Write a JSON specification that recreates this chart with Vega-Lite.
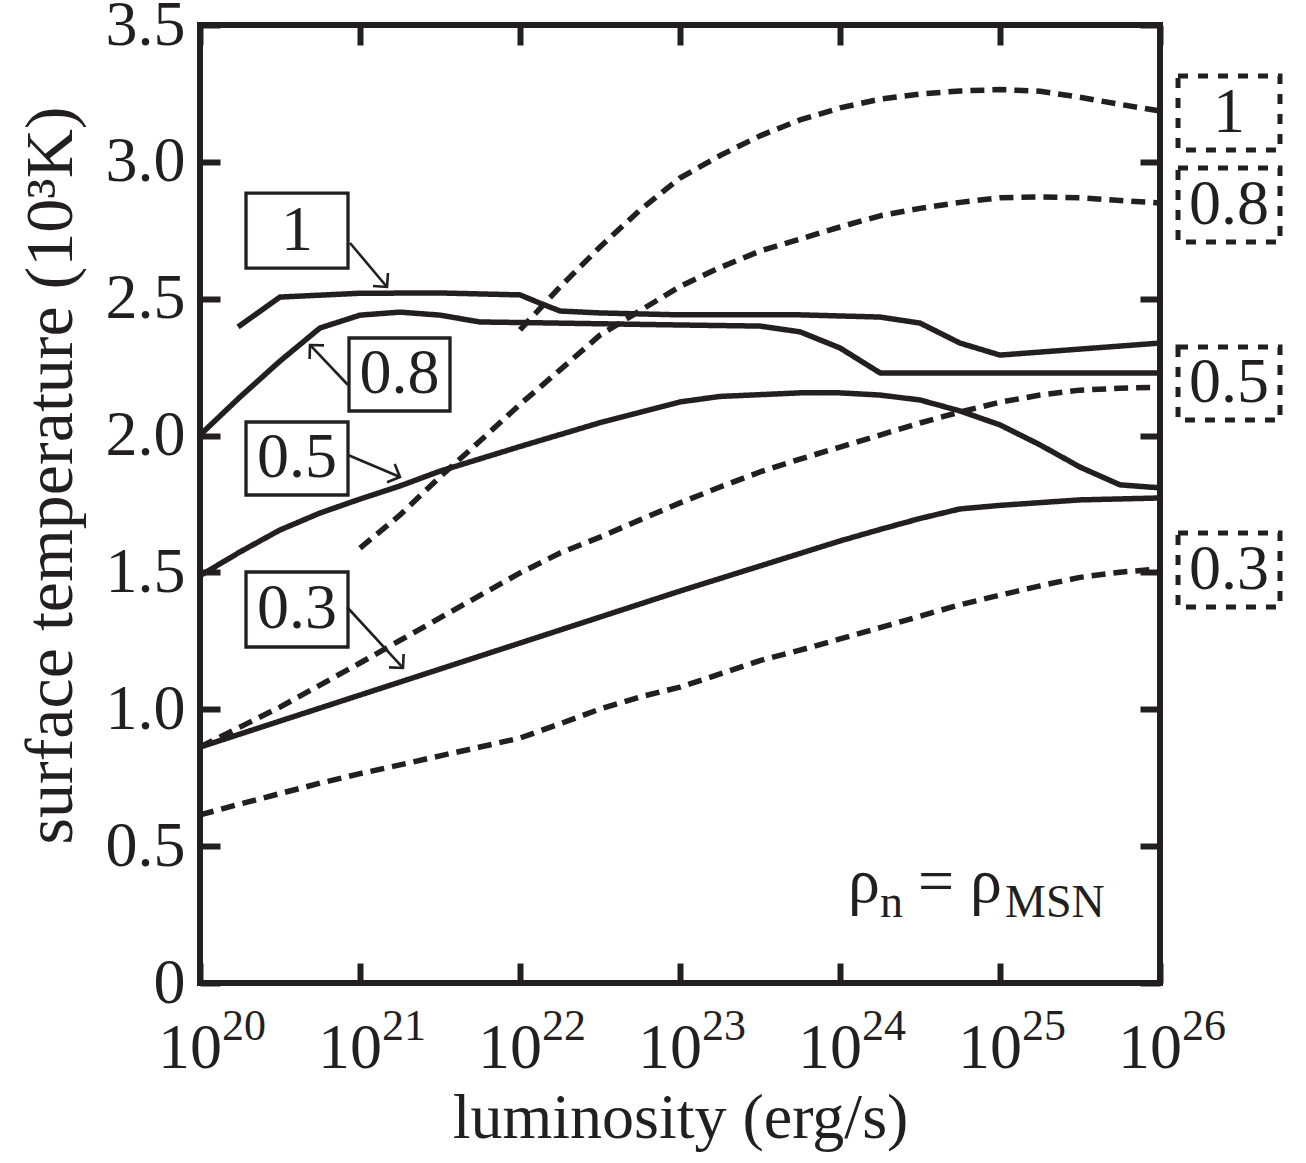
{
  "$schema": "https://vega.github.io/schema/vega-lite/v6.json",
  "width": 960,
  "height": 958,
  "autosize": {"type": "none"},
  "padding": {"left": 200, "top": 25, "right": 146, "bottom": 180},
  "background": "white",
  "config": {
    "view": {"stroke": "#231f20", "strokeWidth": 6},
    "font": "Liberation Serif",
    "axis": {
      "labelFont": "Liberation Serif",
      "titleFont": "Liberation Serif",
      "labelColor": "#231f20",
      "titleColor": "#231f20",
      "tickColor": "#231f20",
      "domain": false,
      "grid": false,
      "titleFontWeight": "normal",
      "tickWidth": 6,
      "tickSize": -20,
      "labelFlush": false,
      "labelOverlap": false,
      "labelBound": false
    }
  },
  "datasets": {
    "curves": [
      {"series": "s1", "style": "solid", "L": 1.73e20, "T": 2.397},
      {"series": "s1", "style": "solid", "L": 3.16e20, "T": 2.506},
      {"series": "s1", "style": "solid", "L": 1e21, "T": 2.52},
      {"series": "s1", "style": "solid", "L": 3.16e21, "T": 2.521},
      {"series": "s1", "style": "solid", "L": 1e22, "T": 2.514},
      {"series": "s1", "style": "solid", "L": 1.33e22, "T": 2.484},
      {"series": "s1", "style": "solid", "L": 1.78e22, "T": 2.455},
      {"series": "s1", "style": "solid", "L": 3.16e22, "T": 2.448},
      {"series": "s1", "style": "solid", "L": 1e23, "T": 2.441},
      {"series": "s1", "style": "solid", "L": 5.62e23, "T": 2.441},
      {"series": "s1", "style": "solid", "L": 1.78e24, "T": 2.433},
      {"series": "s1", "style": "solid", "L": 3.16e24, "T": 2.411},
      {"series": "s1", "style": "solid", "L": 5.62e24, "T": 2.338},
      {"series": "s1", "style": "solid", "L": 1e25, "T": 2.294},
      {"series": "s1", "style": "solid", "L": 1e26, "T": 2.338},

      {"series": "s08", "style": "solid", "L": 1e20, "T": 2.002},
      {"series": "s08", "style": "solid", "L": 1.78e20, "T": 2.141},
      {"series": "s08", "style": "solid", "L": 3.16e20, "T": 2.272},
      {"series": "s08", "style": "solid", "L": 5.62e20, "T": 2.393},
      {"series": "s08", "style": "solid", "L": 1e21, "T": 2.44},
      {"series": "s08", "style": "solid", "L": 1.78e21, "T": 2.451},
      {"series": "s08", "style": "solid", "L": 3.16e21, "T": 2.44},
      {"series": "s08", "style": "solid", "L": 5.62e21, "T": 2.415},
      {"series": "s08", "style": "solid", "L": 1e22, "T": 2.413},
      {"series": "s08", "style": "solid", "L": 1e23, "T": 2.404},
      {"series": "s08", "style": "solid", "L": 3.16e23, "T": 2.4},
      {"series": "s08", "style": "solid", "L": 5.62e23, "T": 2.379},
      {"series": "s08", "style": "solid", "L": 1e24, "T": 2.32},
      {"series": "s08", "style": "solid", "L": 1.78e24, "T": 2.229},
      {"series": "s08", "style": "solid", "L": 1e26, "T": 2.229},

      {"series": "s05", "style": "solid", "L": 1e20, "T": 1.488},
      {"series": "s05", "style": "solid", "L": 1.78e20, "T": 1.575},
      {"series": "s05", "style": "solid", "L": 3.16e20, "T": 1.655},
      {"series": "s05", "style": "solid", "L": 5.62e20, "T": 1.717},
      {"series": "s05", "style": "solid", "L": 1e21, "T": 1.768},
      {"series": "s05", "style": "solid", "L": 1.78e21, "T": 1.816},
      {"series": "s05", "style": "solid", "L": 3.16e21, "T": 1.87},
      {"series": "s05", "style": "solid", "L": 1e22, "T": 1.96},
      {"series": "s05", "style": "solid", "L": 3.16e22, "T": 2.047},
      {"series": "s05", "style": "solid", "L": 1e23, "T": 2.123},
      {"series": "s05", "style": "solid", "L": 1.78e23, "T": 2.143},
      {"series": "s05", "style": "solid", "L": 5.62e23, "T": 2.156},
      {"series": "s05", "style": "solid", "L": 1e24, "T": 2.156},
      {"series": "s05", "style": "solid", "L": 1.78e24, "T": 2.148},
      {"series": "s05", "style": "solid", "L": 3.16e24, "T": 2.13},
      {"series": "s05", "style": "solid", "L": 5.62e24, "T": 2.09},
      {"series": "s05", "style": "solid", "L": 1e25, "T": 2.039},
      {"series": "s05", "style": "solid", "L": 1.78e25, "T": 1.966},
      {"series": "s05", "style": "solid", "L": 3.16e25, "T": 1.885},
      {"series": "s05", "style": "solid", "L": 5.62e25, "T": 1.82},
      {"series": "s05", "style": "solid", "L": 1e26, "T": 1.809},

      {"series": "s03", "style": "solid", "L": 1e20, "T": 0.862},
      {"series": "s03", "style": "solid", "L": 1e21, "T": 1.052},
      {"series": "s03", "style": "solid", "L": 1e22, "T": 1.242},
      {"series": "s03", "style": "solid", "L": 1e23, "T": 1.432},
      {"series": "s03", "style": "solid", "L": 1e24, "T": 1.615},
      {"series": "s03", "style": "solid", "L": 1.78e24, "T": 1.657},
      {"series": "s03", "style": "solid", "L": 3.16e24, "T": 1.697},
      {"series": "s03", "style": "solid", "L": 5.62e24, "T": 1.732},
      {"series": "s03", "style": "solid", "L": 1e25, "T": 1.745},
      {"series": "s03", "style": "solid", "L": 3.16e25, "T": 1.765},
      {"series": "s03", "style": "solid", "L": 1e26, "T": 1.772},

      {"series": "d1", "style": "dashed", "L": 1e22, "T": 2.386},
      {"series": "d1", "style": "dashed", "L": 1.78e22, "T": 2.543},
      {"series": "d1", "style": "dashed", "L": 3.16e22, "T": 2.689},
      {"series": "d1", "style": "dashed", "L": 5.62e22, "T": 2.824},
      {"series": "d1", "style": "dashed", "L": 1e23, "T": 2.941},
      {"series": "d1", "style": "dashed", "L": 1.78e23, "T": 3.023},
      {"series": "d1", "style": "dashed", "L": 3.16e23, "T": 3.095},
      {"series": "d1", "style": "dashed", "L": 5.62e23, "T": 3.153},
      {"series": "d1", "style": "dashed", "L": 1e24, "T": 3.197},
      {"series": "d1", "style": "dashed", "L": 1.78e24, "T": 3.229},
      {"series": "d1", "style": "dashed", "L": 3.16e24, "T": 3.248},
      {"series": "d1", "style": "dashed", "L": 5.62e24, "T": 3.259},
      {"series": "d1", "style": "dashed", "L": 1e25, "T": 3.264},
      {"series": "d1", "style": "dashed", "L": 1.78e25, "T": 3.258},
      {"series": "d1", "style": "dashed", "L": 3.16e25, "T": 3.236},
      {"series": "d1", "style": "dashed", "L": 5.62e25, "T": 3.21},
      {"series": "d1", "style": "dashed", "L": 1e26, "T": 3.186},

      {"series": "d08", "style": "dashed", "L": 1e21, "T": 1.589},
      {"series": "d08", "style": "dashed", "L": 1.78e21, "T": 1.71},
      {"series": "d08", "style": "dashed", "L": 3.16e21, "T": 1.849},
      {"series": "d08", "style": "dashed", "L": 5.62e21, "T": 1.98},
      {"series": "d08", "style": "dashed", "L": 1e22, "T": 2.114},
      {"series": "d08", "style": "dashed", "L": 1.78e22, "T": 2.24},
      {"series": "d08", "style": "dashed", "L": 3.16e22, "T": 2.367},
      {"series": "d08", "style": "dashed", "L": 5.62e22, "T": 2.456},
      {"series": "d08", "style": "dashed", "L": 1e23, "T": 2.545},
      {"series": "d08", "style": "dashed", "L": 1.78e23, "T": 2.614},
      {"series": "d08", "style": "dashed", "L": 3.16e23, "T": 2.674},
      {"series": "d08", "style": "dashed", "L": 5.62e23, "T": 2.718},
      {"series": "d08", "style": "dashed", "L": 1e24, "T": 2.762},
      {"series": "d08", "style": "dashed", "L": 1.78e24, "T": 2.803},
      {"series": "d08", "style": "dashed", "L": 3.16e24, "T": 2.83},
      {"series": "d08", "style": "dashed", "L": 5.62e24, "T": 2.852},
      {"series": "d08", "style": "dashed", "L": 1e25, "T": 2.869},
      {"series": "d08", "style": "dashed", "L": 1.78e25, "T": 2.872},
      {"series": "d08", "style": "dashed", "L": 3.16e25, "T": 2.869},
      {"series": "d08", "style": "dashed", "L": 5.62e25, "T": 2.859},
      {"series": "d08", "style": "dashed", "L": 1e26, "T": 2.85},

      {"series": "d05", "style": "dashed", "L": 1e20, "T": 0.862},
      {"series": "d05", "style": "dashed", "L": 3.16e20, "T": 1.008},
      {"series": "d05", "style": "dashed", "L": 1e21, "T": 1.169},
      {"series": "d05", "style": "dashed", "L": 3.16e21, "T": 1.334},
      {"series": "d05", "style": "dashed", "L": 1e22, "T": 1.498},
      {"series": "d05", "style": "dashed", "L": 1.78e22, "T": 1.571},
      {"series": "d05", "style": "dashed", "L": 3.16e22, "T": 1.629},
      {"series": "d05", "style": "dashed", "L": 5.62e22, "T": 1.692},
      {"series": "d05", "style": "dashed", "L": 1e23, "T": 1.754},
      {"series": "d05", "style": "dashed", "L": 1.78e23, "T": 1.812},
      {"series": "d05", "style": "dashed", "L": 3.16e23, "T": 1.867},
      {"series": "d05", "style": "dashed", "L": 5.62e23, "T": 1.914},
      {"series": "d05", "style": "dashed", "L": 1e24, "T": 1.958},
      {"series": "d05", "style": "dashed", "L": 1.78e24, "T": 2.002},
      {"series": "d05", "style": "dashed", "L": 3.16e24, "T": 2.046},
      {"series": "d05", "style": "dashed", "L": 5.62e24, "T": 2.086},
      {"series": "d05", "style": "dashed", "L": 1e25, "T": 2.122},
      {"series": "d05", "style": "dashed", "L": 1.78e25, "T": 2.148},
      {"series": "d05", "style": "dashed", "L": 3.16e25, "T": 2.166},
      {"series": "d05", "style": "dashed", "L": 5.62e25, "T": 2.173},
      {"series": "d05", "style": "dashed", "L": 1e26, "T": 2.177},

      {"series": "d03", "style": "dashed", "L": 1e20, "T": 0.614},
      {"series": "d03", "style": "dashed", "L": 1.78e20, "T": 0.654},
      {"series": "d03", "style": "dashed", "L": 3.16e20, "T": 0.692},
      {"series": "d03", "style": "dashed", "L": 5.62e20, "T": 0.73},
      {"series": "d03", "style": "dashed", "L": 1e21, "T": 0.765},
      {"series": "d03", "style": "dashed", "L": 1.78e21, "T": 0.797},
      {"series": "d03", "style": "dashed", "L": 3.16e21, "T": 0.83},
      {"series": "d03", "style": "dashed", "L": 5.62e21, "T": 0.862},
      {"series": "d03", "style": "dashed", "L": 1e22, "T": 0.895},
      {"series": "d03", "style": "dashed", "L": 1.78e22, "T": 0.947},
      {"series": "d03", "style": "dashed", "L": 3.16e22, "T": 1.001},
      {"series": "d03", "style": "dashed", "L": 5.62e22, "T": 1.045},
      {"series": "d03", "style": "dashed", "L": 1e23, "T": 1.081},
      {"series": "d03", "style": "dashed", "L": 1.78e23, "T": 1.129},
      {"series": "d03", "style": "dashed", "L": 3.16e23, "T": 1.178},
      {"series": "d03", "style": "dashed", "L": 5.62e23, "T": 1.216},
      {"series": "d03", "style": "dashed", "L": 1e24, "T": 1.257},
      {"series": "d03", "style": "dashed", "L": 1.78e24, "T": 1.298},
      {"series": "d03", "style": "dashed", "L": 3.16e24, "T": 1.34},
      {"series": "d03", "style": "dashed", "L": 5.62e24, "T": 1.382},
      {"series": "d03", "style": "dashed", "L": 1e25, "T": 1.417},
      {"series": "d03", "style": "dashed", "L": 1.78e25, "T": 1.451},
      {"series": "d03", "style": "dashed", "L": 3.16e25, "T": 1.482},
      {"series": "d03", "style": "dashed", "L": 5.62e25, "T": 1.501},
      {"series": "d03", "style": "dashed", "L": 1e26, "T": 1.513}
    ],
    "boxes": [
      {"id": "b1", "style": "solid", "L1": 1.939e20, "L2": 8.414e20, "T1": 2.886, "T2": 2.612},
      {"id": "b08", "style": "solid", "L1": 8.536e20, "L2": 3.652e21, "T1": 2.3565, "T2": 2.0898},
      {"id": "b05", "style": "solid", "L1": 1.939e20, "L2": 8.414e20, "T1": 2.0496, "T2": 1.7829},
      {"id": "b03", "style": "solid", "L1": 1.939e20, "L2": 8.414e20, "T1": 1.5016, "T2": 1.2276},
      {"id": "r1", "style": "dashed", "L1": 1.296e26, "L2": 5.623e26, "T1": 3.3137, "T2": 3.0434},
      {"id": "r08", "style": "dashed", "L1": 1.296e26, "L2": 5.623e26, "T1": 2.9776, "T2": 2.7072},
      {"id": "r05", "style": "dashed", "L1": 1.296e26, "L2": 5.623e26, "T1": 2.3236, "T2": 2.0569},
      {"id": "r03", "style": "dashed", "L1": 1.296e26, "L2": 5.623e26, "T1": 1.6441, "T2": 1.3737}
    ],
    "boxlabels": [
      {"t": "1", "L": 4.039e20, "T": 2.749},
      {"t": "0.8", "L": 1.766e21, "T": 2.2232},
      {"t": "0.5", "L": 4.039e20, "T": 1.9163},
      {"t": "0.3", "L": 4.039e20, "T": 1.3646},
      {"t": "1", "L": 2.699e26, "T": 3.1786},
      {"t": "0.8", "L": 2.699e26, "T": 2.8424},
      {"t": "0.5", "L": 2.699e26, "T": 2.1903},
      {"t": "0.3", "L": 2.699e26, "T": 1.5089}
    ],
    "arrows": [
      {"seg": "a1s", "o": 0, "L": 8.66e20, "T": 2.7036},
      {"seg": "a1s", "o": 1, "L": 1.475e21, "T": 2.5429},
      {"seg": "a1h", "o": 0, "L": 1.496e21, "T": 2.594},
      {"seg": "a1h", "o": 1, "L": 1.475e21, "T": 2.5429},
      {"seg": "a1h", "o": 2, "L": 1.206e21, "T": 2.5465},
      {"seg": "a08s", "o": 0, "L": 8.414e20, "T": 2.1848},
      {"seg": "a08s", "o": 1, "L": 4.87e20, "T": 2.331},
      {"seg": "a08h", "o": 0, "L": 4.842e20, "T": 2.2798},
      {"seg": "a08h", "o": 1, "L": 4.87e20, "T": 2.331},
      {"seg": "a08h", "o": 2, "L": 5.957e20, "T": 2.3295},
      {"seg": "a05s", "o": 0, "L": 8.414e20, "T": 1.929},
      {"seg": "a05s", "o": 1, "L": 1.778e21, "T": 1.8487},
      {"seg": "a05h", "o": 0, "L": 1.648e21, "T": 1.8962},
      {"seg": "a05h", "o": 1, "L": 1.778e21, "T": 1.8487},
      {"seg": "a05h", "o": 2, "L": 1.475e21, "T": 1.8293},
      {"seg": "a03s", "o": 0, "L": 8.293e20, "T": 1.3737},
      {"seg": "a03s", "o": 1, "L": 1.857e21, "T": 1.1509},
      {"seg": "a03h", "o": 0, "L": 1.873e21, "T": 1.202},
      {"seg": "a03h", "o": 1, "L": 1.857e21, "T": 1.1509},
      {"seg": "a03h", "o": 2, "L": 1.518e21, "T": 1.153}
    ],
    "xticks": [
      {"L": 1e20, "e": "20"},
      {"L": 1e21, "e": "21"},
      {"L": 1e22, "e": "22"},
      {"L": 1e23, "e": "23"},
      {"L": 1e24, "e": "24"},
      {"L": 1e25, "e": "25"},
      {"L": 1e26, "e": "26"}
    ],
    "notes": [
      {"part": "main", "t": "ρ", "L": 1.122e24, "T": 0.296},
      {"part": "sub", "t": "n", "L": 1.778e24, "T": 0.241},
      {"part": "main", "t": "= ρ", "L": 3.07e24, "T": 0.296},
      {"part": "sub", "t": "MSN", "L": 1.075e25, "T": 0.241}
    ]
  },
  "resolve": {"axis": {"x": "independent", "y": "independent"}},
  "layer": [
    {
      "data": {"name": "curves"},
      "mark": {"type": "line", "color": "#231f20", "strokeWidth": 5.5, "strokeCap": "butt", "strokeJoin": "round"},
      "encoding": {
        "x": {
          "field": "L", "type": "quantitative",
          "scale": {"type": "log", "domain": [1e20, 1e26], "nice": false},
          "axis": {
            "orient": "bottom",
            "values": [1e20, 1e21, 1e22, 1e23, 1e24, 1e25, 1e26],
            "labels": false,
            "title": "luminosity (erg/s)",
            "titleFontSize": 64,
            "titlePadding": 100
          }
        },
        "y": {
          "field": "T", "type": "quantitative",
          "scale": {"domain": [0, 3.5], "nice": false, "zero": false},
          "axis": {
            "orient": "left",
            "values": [0, 0.5, 1, 1.5, 2, 2.5, 3, 3.5],
            "labelExpr": "datum.value == 0 ? '0' : format(datum.value, '.1f')",
            "labelFontSize": 64,
            "labelPadding": 35,
            "title": "surface temperature (10³K)",
            "titleFontSize": 68,
            "titlePadding": 20,
            "titleY": 450
          }
        },
        "detail": {"field": "series", "type": "nominal"},
        "strokeDash": {
          "field": "style", "type": "nominal",
          "scale": {"domain": ["solid", "dashed"], "range": [[1, 0], [14, 8]]},
          "legend": null
        }
      }
    },
    {
      "data": {"name": "curves"},
      "mark": {"type": "point", "opacity": 0},
      "encoding": {
        "x": {
          "field": "L", "type": "quantitative",
          "axis": {"orient": "top", "values": [1e20, 1e21, 1e22, 1e23, 1e24, 1e25, 1e26], "labels": false, "title": null}
        },
        "y": {
          "field": "T", "type": "quantitative",
          "axis": {"orient": "right", "values": [0, 0.5, 1, 1.5, 2, 2.5, 3, 3.5], "labels": false, "title": null}
        }
      }
    },
    {
      "data": {"name": "boxes"},
      "transform": [{"filter": "datum.style == 'solid'"}],
      "mark": {"type": "rect", "fill": "white", "stroke": "#231f20", "strokeWidth": 3.3},
      "encoding": {
        "x": {"field": "L1", "type": "quantitative", "axis": null},
        "x2": {"field": "L2"},
        "y": {"field": "T1", "type": "quantitative", "axis": null},
        "y2": {"field": "T2"}
      }
    },
    {
      "data": {"name": "boxes"},
      "transform": [{"filter": "datum.style == 'dashed'"}],
      "mark": {"type": "rect", "fill": "white", "stroke": "#231f20", "strokeWidth": 5, "strokeDash": [10, 10], "strokeCap": "butt"},
      "encoding": {
        "x": {"field": "L1", "type": "quantitative", "axis": null},
        "x2": {"field": "L2"},
        "y": {"field": "T1", "type": "quantitative", "axis": null},
        "y2": {"field": "T2"}
      }
    },
    {
      "data": {"name": "boxlabels"},
      "mark": {"type": "text", "font": "Liberation Serif", "fontSize": 64, "align": "center", "baseline": "middle", "color": "#231f20"},
      "encoding": {
        "x": {"field": "L", "type": "quantitative", "axis": null},
        "y": {"field": "T", "type": "quantitative", "axis": null},
        "text": {"field": "t"}
      }
    },
    {
      "data": {"name": "arrows"},
      "mark": {"type": "line", "color": "#231f20", "strokeWidth": 2.6, "strokeCap": "butt", "strokeJoin": "miter"},
      "encoding": {
        "x": {"field": "L", "type": "quantitative", "axis": null},
        "y": {"field": "T", "type": "quantitative", "axis": null},
        "detail": {"field": "seg", "type": "nominal"},
        "order": {"field": "o", "type": "quantitative"}
      }
    },
    {
      "data": {"name": "xticks"},
      "mark": {"type": "text", "text": "10", "font": "Liberation Serif", "fontSize": 64, "align": "right", "baseline": "alphabetic", "dx": 22, "dy": 85, "color": "#231f20"},
      "encoding": {
        "x": {"field": "L", "type": "quantitative", "axis": null},
        "y": {"datum": 0, "type": "quantitative", "axis": null}
      }
    },
    {
      "data": {"name": "xticks"},
      "mark": {"type": "text", "font": "Liberation Serif", "fontSize": 44, "align": "left", "baseline": "alphabetic", "dx": 22, "dy": 57, "color": "#231f20"},
      "encoding": {
        "x": {"field": "L", "type": "quantitative", "axis": null},
        "y": {"datum": 0, "type": "quantitative", "axis": null},
        "text": {"field": "e"}
      }
    },
    {
      "data": {"name": "notes"},
      "transform": [{"filter": "datum.part == 'main'"}],
      "mark": {"type": "text", "font": "Liberation Serif", "fontSize": 64, "align": "left", "baseline": "alphabetic", "color": "#231f20"},
      "encoding": {
        "x": {"field": "L", "type": "quantitative", "axis": null},
        "y": {"field": "T", "type": "quantitative", "axis": null},
        "text": {"field": "t"}
      }
    },
    {
      "data": {"name": "notes"},
      "transform": [{"filter": "datum.part == 'sub'"}],
      "mark": {"type": "text", "font": "Liberation Serif", "fontSize": 46, "align": "left", "baseline": "alphabetic", "color": "#231f20"},
      "encoding": {
        "x": {"field": "L", "type": "quantitative", "axis": null},
        "y": {"field": "T", "type": "quantitative", "axis": null},
        "text": {"field": "t"}
      }
    }
  ]
}
